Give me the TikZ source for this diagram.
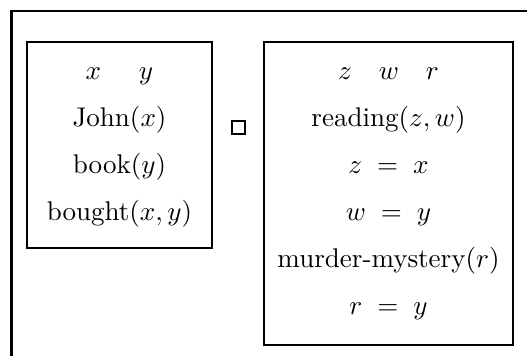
\documentclass[tikz,border=0pt]{standalone}
\usepackage{tikz}
\usetikzlibrary{positioning}
\newcommand{\pxu}{0.37pt}

\begin{document}
\begin{tikzpicture}[
    x=\pxu, y=-\pxu,
    frame/.style={line width=1.1pt},
    box/.style={draw, line width=0.8pt, inner sep=0pt},
    row/.style={anchor=base, inner sep=0pt},
]
    \useasboundingbox (0,0) rectangle (527,356);

    % Outer frame (cut off at right and bottom)
    \draw[frame] (11.5,356) -- (11.5,11) -- (527,11);

    % Boxes
    \node[box, minimum width=185*\pxu, minimum height=206*\pxu] (left)  at (119.5,145)   {};
    \node[box, minimum width=249*\pxu, minimum height=303*\pxu] (right) at (388.5,193.5) {};
    \node[draw, line width=0.5pt, minimum size=13*\pxu, inner sep=0pt] (sq) at (238.5,127.5) {};

    % Left box
    \node[row] (xy)     at (119.5,79)  {$x \hspace{1.4em} y$};
    \node[row] (john)   at (119.5,126) {John$(x)$};
    \node[row] (book)   at (119.5,173) {book$(y)$};
    \node[row] (bought) at (119.5,220) {bought$(x,y)$};

    % Right box
    \node[row] (zwr)     at (388.5,79)  {$z \quad w \quad r$};
    \node[row] (reading) at (388.5,126) {reading$(z,w)$};
    \node[row] (zx)      at (388.5,173) {$z \;=\; x$};
    \node[row] (wy)      at (388.5,220) {$w \;=\; y$};
    \node[row] (murder)  at (388.5,267) {murder-mystery$(r)$};
    \node[row] (ry)      at (388.5,314) {$r \;=\; y$};
\end{tikzpicture}
\end{document}
